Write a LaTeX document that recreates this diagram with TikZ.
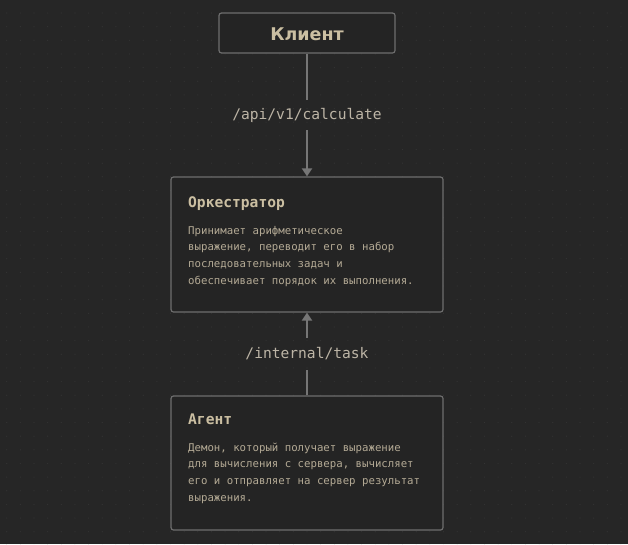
\documentclass[tikz,border=0pt]{standalone}
\usepackage{fontspec}
\setmainfont{DejaVu Sans}
\setmonofont{DejaVu Sans Mono}
\usetikzlibrary{arrows.meta}
\definecolor{bg}{HTML}{262626}
\definecolor{boxfill}{HTML}{242424}
\definecolor{edge}{HTML}{6E6E6E}
\definecolor{lineclr}{HTML}{767676}
\definecolor{titleclr}{HTML}{CBBFA2}
\definecolor{bodyclr}{HTML}{B4AA95}
\definecolor{labclr}{HTML}{BDB5A6}
\definecolor{dotclr}{HTML}{343434}
\tikzset{
  box/.style={draw=edge, line width=1.2pt, fill=boxfill, rounded corners=2.5pt, inner sep=0pt},
  titletext/.style={anchor=base west, inner sep=0pt, text=titleclr, font=\ttfamily\bfseries\fontsize{14.6}{16}\selectfont},
  bodytext/.style={anchor=base west, inner sep=0pt, text=bodyclr, align=left, font=\ttfamily\fontsize{10.7}{16.6}\selectfont},
  pathlabel/.style={text=labclr, font=\ttfamily\fontsize{14.6}{16}\selectfont, inner sep=0pt, minimum height=30pt},
  conn/.style={draw=lineclr, line width=2pt},
  tip/.style={-{Triangle[length=8pt,width=10pt]}}
}
\begin{document}
\begin{tikzpicture}[x=1pt,y=-1pt]
\fill[bg] (0,0) rectangle (628,544);
\useasboundingbox (0,0) rectangle (628,544);
\foreach \i in {0,...,45} {
  \foreach \j in {0,...,39} {
    \fill[dotclr] ({6.7+13.65*\i},{13+13.65*\j}) circle (0.6);
  }
}
% boxes
\node[box, minimum width=176pt, minimum height=40pt] (client) at (307,33) {};
\node[anchor=center, inner sep=0pt, text=titleclr, font=\bfseries\fontsize{17.5}{20}\selectfont] (clienttxt) at (307,34) {Клиент};
\node[box, minimum width=272pt, minimum height=135pt] (orch) at (307,244.5) {};
\node[box, minimum width=272pt, minimum height=134pt] (agent) at (307,463) {};
% labels on connectors
\node[pathlabel, minimum height=30pt] (lab1) at (307,115) {/api/v1/calculate};
\node[pathlabel, minimum height=32pt] (lab2) at (307,354) {/internal/task};
% texts
\node[titletext] (orchtitle) at (188,207) {Оркестратор};
\node[bodytext] (orchbody) at (188,284) {Принимает арифметическое\\выражение, переводит его в набор\\последовательных задач и\\обеспечивает порядок их выполнения.};
\node[titletext] (agenttitle) at (188,424) {Агент};
\node[bodytext] (agentbody) at (188,501) {Демон, который получает выражение\\для вычисления с сервера, вычисляет\\его и отправляет на сервер результат\\выражения.};
% connectors
\draw[conn] (client.south) -- (lab1.north);
\draw[conn, tip] (lab1.south) -- (orch.north);
\draw[conn] (agent.north) -- (lab2.south);
\draw[conn, tip] (lab2.north) -- (orch.south);
\end{tikzpicture}
\end{document}
